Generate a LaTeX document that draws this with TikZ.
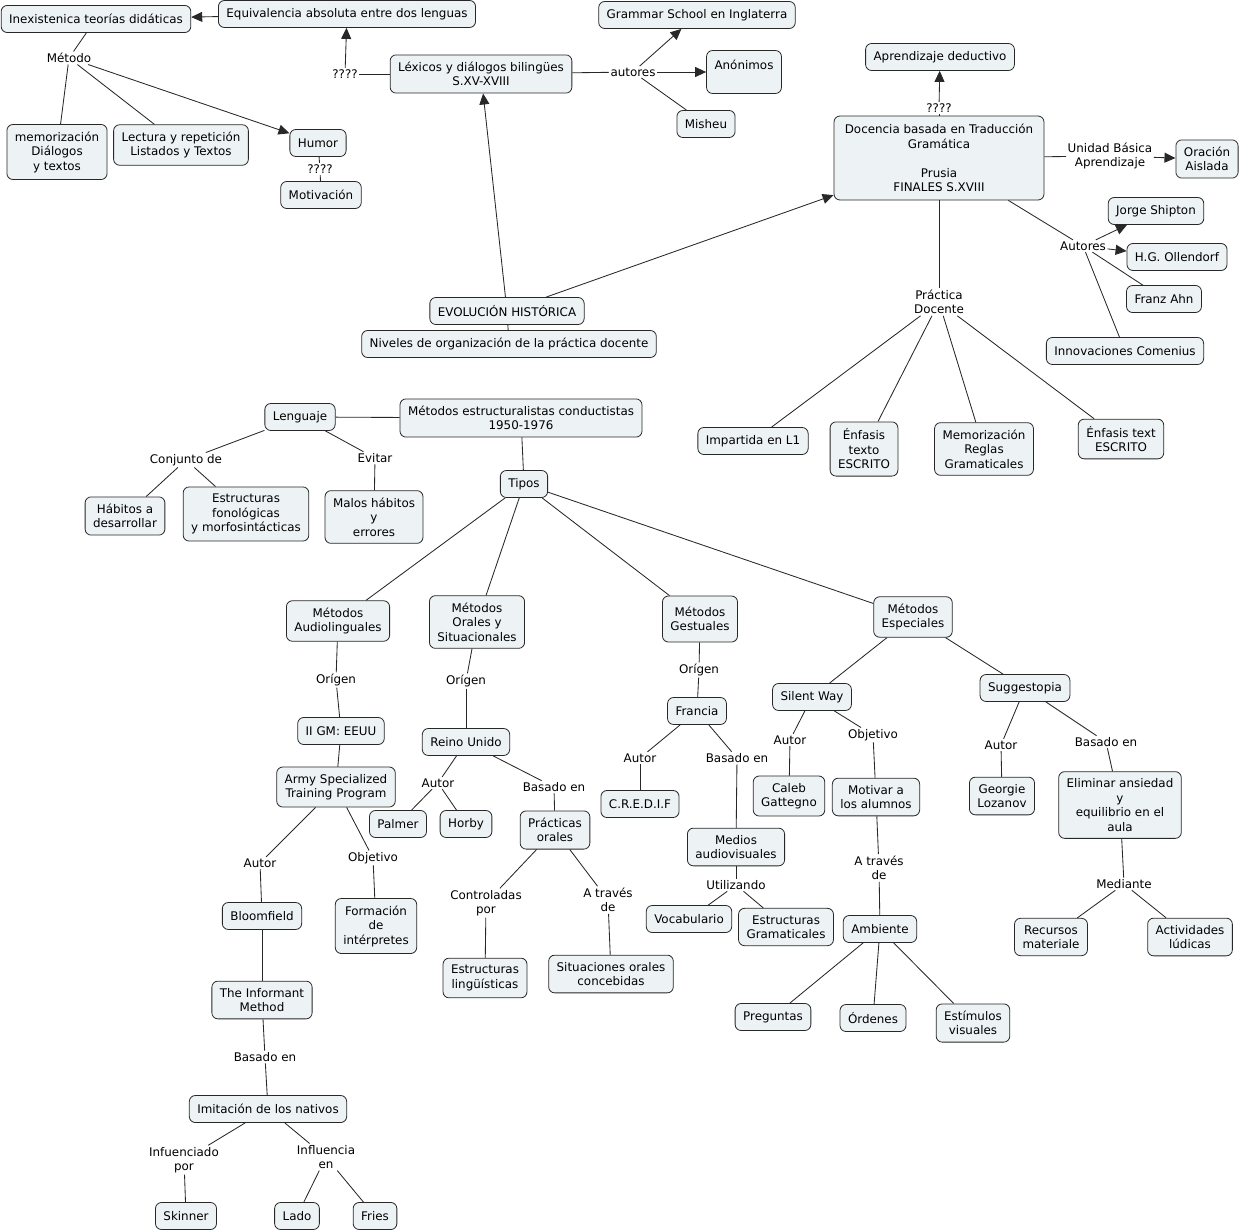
\documentclass[tikz,border=0pt]{standalone}
\usepackage{fontspec}
\setmainfont{DejaVu Sans}
\usetikzlibrary{arrows.meta}
\definecolor{conceptfill}{RGB}{237,243,245}
\definecolor{linegray}{RGB}{40,40,40}

\begin{document}
\begin{tikzpicture}[x=1pt,y=-1pt,
    every node/.style={font=\fontsize{11.9}{14.5}\selectfont},
    concept/.style={draw=linegray, fill=conceptfill, rounded corners=6pt, align=center,
        inner xsep=8pt, inner ysep=7pt, minimum height=27pt, line width=0.8pt},
    linkword/.style={inner sep=1.5pt, align=center},
    conn/.style={draw=linegray, line width=0.85pt},
    arr/.style={conn, -{Triangle[length=11pt,width=10pt]}}]
    \useasboundingbox (0,0) rectangle (1243,1231);

    \node[concept] (inex) at (96,19) {Inexistenica teorías didáticas};
    \node[concept] (equiv) at (347,14) {Equivalencia absoluta entre dos lenguas};
    \node[concept] (lexicos) at (481,74) {Léxicos y diálogos bilingües\\S.XV-XVIII};
    \node[concept] (grammar) at (697,15) {Grammar School en Inglaterra};
    \node[concept, minimum height=43pt] (anon) at (744,72) {Anónimos\\\mbox{}};
    \node[concept] (misheu) at (706,124) {Misheu};
    \node[concept] (memo) at (57,152) {memorización\\Diálogos\\y textos};
    \node[concept] (lectura) at (181,145) {Lectura y repetición\\Listados y Textos};
    \node[concept] (humor) at (318,143) {Humor};
    \node[concept] (motiv) at (321,195) {Motivación};
    \node[concept] (aprend) at (940,57) {Aprendizaje deductivo};
    \node[concept, minimum width=210pt, minimum height=84pt] (docencia) at (939,158)
        {Docencia basada en Traducción\\Gramática\\[14.5pt]Prusia\\FINALES S.XVIII};
    \node[concept] (oracion) at (1207,159) {Oración\\Aislada};
    \node[concept] (jorge) at (1156,211) {Jorge Shipton};
    \node[concept] (hg) at (1177,257) {H.G. Ollendorf};
    \node[concept] (franz) at (1164,299) {Franz Ahn};
    \node[concept] (innov) at (1125,351) {Innovaciones Comenius};
    \node[concept] (evol) at (507,311) {EVOLUCIÓN HISTÓRICA};
    \node[concept] (niveles) at (509,344) {Niveles de organización de la práctica docente};
    \node[concept] (imp) at (753,441) {Impartida en L1};
    \node[concept] (enf1) at (864,449) {Énfasis\\texto\\ESCRITO};
    \node[concept] (memreg) at (984,449) {Memorización\\Reglas\\Gramaticales};
    \node[concept] (enf2) at (1121,439) {Énfasis text\\ESCRITO};
    \node[concept] (metest) at (521,418) {Métodos estructuralistas conductistas\\1950-1976};
    \node[concept] (leng) at (300,417) {Lenguaje};
    \node[concept] (habitos) at (125,516) {Hábitos a\\desarrollar};
    \node[concept] (estfon) at (246,514) {Estructuras\\fonológicas\\y morfosintácticas};
    \node[concept] (malos) at (374,517) {Malos hábitos\\y\\errores};
    \node[concept] (tipos) at (524,484) {Tipos};
    \node[concept] (audio) at (338,621) {Métodos\\Audiolinguales};
    \node[concept] (orales) at (477,622) {Métodos\\Orales y\\Situacionales};
    \node[concept, minimum height=46pt] (gest) at (700,619) {Métodos\\Gestuales};
    \node[concept] (espec) at (913,617) {Métodos\\Especiales};
    \node[concept] (iigm) at (341,731) {II GM: EEUU};
    \node[concept] (reino) at (466,742) {Reino Unido};
    \node[concept] (francia) at (697,711) {Francia};
    \node[concept] (silent) at (812,697) {Silent Way};
    \node[concept] (sugg) at (1025,688) {Suggestopia};
    \node[concept] (army) at (336,787) {Army Specialized\\Training Program};
    \node[concept] (palmer) at (398,824) {Palmer};
    \node[concept] (horby) at (466,824) {Horby};
    \node[concept] (pract) at (555,830) {Prácticas\\orales};
    \node[concept] (credif) at (640,804) {C.R.E.D.I.F};
    \node[concept] (medios) at (736,847) {Medios\\audiovisuales};
    \node[concept] (caleb) at (789,796) {Caleb\\Gattegno};
    \node[concept] (motivar) at (876,797) {Motivar a\\los alumnos};
    \node[concept] (georgie) at (1002,796) {Georgie\\Lozanov};
    \node[concept] (elim) at (1120,805) {Eliminar ansiedad\\y\\equilibrio en el\\aula};
    \node[concept] (bloom) at (262,916) {Bloomfield};
    \node[concept] (form) at (376,926) {Formación\\de\\intérpretes};
    \node[concept] (estling) at (485,978) {Estructuras\\lingüísticas};
    \node[concept] (sitor) at (611,974) {Situaciones orales\\concebidas};
    \node[concept] (vocab) at (689,919) {Vocabulario};
    \node[concept] (estgram) at (786,927) {Estructuras\\Gramaticales};
    \node[concept] (ambiente) at (880,929) {Ambiente};
    \node[concept] (recursos) at (1051,937) {Recursos\\materiale};
    \node[concept] (activ) at (1190,937) {Actividades\\lúdicas};
    \node[concept] (informant) at (262,1000) {The Informant\\Method};
    \node[concept] (preg) at (773,1017) {Preguntas};
    \node[concept] (ordenes) at (873,1018) {Órdenes};
    \node[concept] (estim) at (973,1023) {Estímulos\\visuales};
    \node[concept] (imit) at (268,1109) {Imitación de los nativos};
    \node[concept] (skinner) at (186,1216) {Skinner};
    \node[concept] (lado) at (297,1216) {Lado};
    \node[concept] (fries) at (375,1216) {Fries};

    \node[linkword] (metodo) at (69,58) {Método};
    \node[linkword] (qlex) at (345,74) {????};
    \node[linkword] (autores) at (633,72) {autores};
    \node[linkword] (qhum) at (320,169) {????};
    \node[linkword] (qdoc) at (939,108) {????};
    \node[linkword] (unidad) at (1110,156) {Unidad Básica\\Aprendizaje};
    \node[linkword] (autoresdoc) at (1083,246) {Autores};
    \node[linkword] (practica) at (939,302) {Práctica\\Docente};
    \node[linkword] (conjunto) at (186,460) {Conjunto de};
    \node[linkword] (evitar) at (375,458) {Evitar};
    \node[linkword] (origaud) at (336,680) {Orígen};
    \node[linkword] (origor) at (466,681) {Orígen};
    \node[linkword] (origgest) at (699,670) {Orígen};
    \node[linkword] (autarmy) at (260,863) {Autor};
    \node[linkword] (objarmy) at (373,858) {Objetivo};
    \node[linkword] (autreino) at (438,783) {Autor};
    \node[linkword] (basreino) at (554,787) {Basado en};
    \node[linkword] (autfran) at (640,758) {Autor};
    \node[linkword] (basfran) at (737,758) {Basado en};
    \node[linkword] (autsil) at (790,740) {Autor};
    \node[linkword] (objsil) at (873,735) {Objetivo};
    \node[linkword] (autsug) at (1001,745) {Autor};
    \node[linkword] (bassug) at (1106,742) {Basado en};
    \node[linkword] (contr) at (486,903) {Controladas\\por};
    \node[linkword] (atrpract) at (608,900) {A través\\de};
    \node[linkword] (utiliz) at (736,885) {Utilizando};
    \node[linkword] (atrmot) at (879,868) {A través\\de};
    \node[linkword] (mediante) at (1124,884) {Mediante};
    \node[linkword] (basinf) at (265,1057) {Basado en};
    \node[linkword] (infpor) at (184,1160) {Infuenciado\\por};
    \node[linkword] (infen) at (326,1157) {Influencia\\en};

    \draw[arr] (equiv) -- (inex);
    \draw[conn] (inex) -- (metodo);
    \draw[conn] (metodo) -- (memo);
    \draw[conn] (metodo) -- (lectura);
    \draw[arr] (metodo) -- (humor);
    \draw[conn] (humor) -- (qhum);
    \draw[conn] (qhum) -- (motiv);
    \draw[conn] (lexicos) -- (qlex);
    \draw[arr] (qlex) -- (equiv);
    \draw[conn] (lexicos) -- (autores);
    \draw[arr] (autores) -- (grammar);
    \draw[arr] (autores) -- (anon);
    \draw[conn] (autores) -- (misheu);
    \draw[arr] (evol) -- (lexicos);
    \draw[arr] (evol) -- (docencia);
    \draw[conn] (evol) -- (niveles);
    \draw[conn] (docencia) -- (qdoc);
    \draw[arr] (qdoc) -- (aprend);
    \draw[conn] (docencia) -- (unidad);
    \draw[arr] (unidad) -- (oracion);
    \draw[conn] (docencia) -- (autoresdoc);
    \draw[arr] (autoresdoc) -- (jorge);
    \draw[arr] (autoresdoc) -- (hg);
    \draw[conn] (autoresdoc) -- (franz);
    \draw[conn] (autoresdoc) -- (innov);
    \draw[conn] (docencia) -- (practica);
    \draw[conn] (practica) -- (imp);
    \draw[conn] (practica) -- (enf1);
    \draw[conn] (practica) -- (memreg);
    \draw[conn] (practica) -- (enf2);

    \draw[conn] (leng) -- (metest);
    \draw[conn] (leng) -- (conjunto);
    \draw[conn] (conjunto) -- (habitos);
    \draw[conn] (conjunto) -- (estfon);
    \draw[conn] (leng) -- (evitar);
    \draw[conn] (evitar) -- (malos);
    \draw[conn] (metest) -- (tipos);
    \draw[conn] (tipos) -- (audio);
    \draw[conn] (tipos) -- (orales);
    \draw[conn] (tipos) -- (gest);
    \draw[conn] (tipos) -- (espec);

    \draw[conn] (audio) -- (origaud);
    \draw[conn] (origaud) -- (iigm);
    \draw[conn] (iigm) -- (army);
    \draw[conn] (orales) -- (origor);
    \draw[conn] (origor) -- (reino);
    \draw[conn] (gest) -- (origgest);
    \draw[conn] (origgest) -- (francia);
    \draw[conn] (espec) -- (silent);
    \draw[conn] (espec) -- (sugg);

    \draw[conn] (army) -- (autarmy);
    \draw[conn] (autarmy) -- (bloom);
    \draw[conn] (army) -- (objarmy);
    \draw[conn] (objarmy) -- (form);
    \draw[conn] (reino) -- (autreino);
    \draw[conn] (autreino) -- (palmer);
    \draw[conn] (autreino) -- (horby);
    \draw[conn] (reino) -- (basreino);
    \draw[conn] (basreino) -- (pract);
    \draw[conn] (francia) -- (autfran);
    \draw[conn] (autfran) -- (credif);
    \draw[conn] (francia) -- (basfran);
    \draw[conn] (basfran) -- (medios);
    \draw[conn] (silent) -- (autsil);
    \draw[conn] (autsil) -- (caleb);
    \draw[conn] (silent) -- (objsil);
    \draw[conn] (objsil) -- (motivar);
    \draw[conn] (sugg) -- (autsug);
    \draw[conn] (autsug) -- (georgie);
    \draw[conn] (sugg) -- (bassug);
    \draw[conn] (bassug) -- (elim);

    \draw[conn] (pract) -- (contr);
    \draw[conn] (contr) -- (estling);
    \draw[conn] (pract) -- (atrpract);
    \draw[conn] (atrpract) -- (sitor);
    \draw[conn] (medios) -- (utiliz);
    \draw[conn] (utiliz) -- (vocab);
    \draw[conn] (utiliz) -- (estgram);
    \draw[conn] (motivar) -- (atrmot);
    \draw[conn] (atrmot) -- (ambiente);
    \draw[conn] (elim) -- (mediante);
    \draw[conn] (mediante) -- (recursos);
    \draw[conn] (mediante) -- (activ);
    \draw[conn] (ambiente) -- (preg);
    \draw[conn] (ambiente) -- (ordenes);
    \draw[conn] (ambiente) -- (estim);

    \draw[conn] (bloom) -- (informant);
    \draw[conn] (informant) -- (basinf);
    \draw[conn] (basinf) -- (imit);
    \draw[conn] (imit) -- (infpor);
    \draw[conn] (infpor) -- (skinner);
    \draw[conn] (imit) -- (infen);
    \draw[conn] (infen) -- (lado);
    \draw[conn] (infen) -- (fries);
\end{tikzpicture}
\end{document}
